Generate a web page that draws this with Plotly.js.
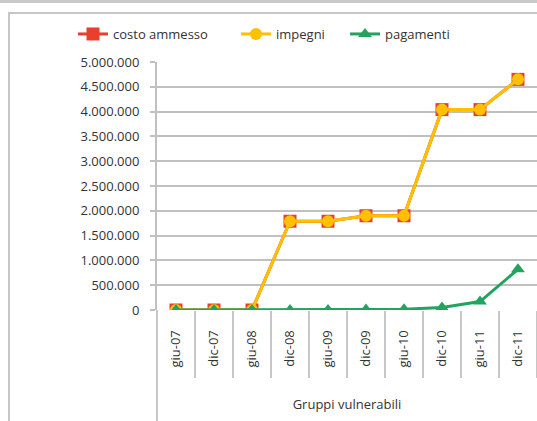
<!DOCTYPE html>
<html>
<head>
<meta charset="utf-8">
<script src="https://cdn.plot.ly/plotly-3.0.1.min.js"></script>
<style>
  html, body { margin: 0; padding: 0; background: #ffffff; overflow: hidden; }
  #topbar { position: absolute; left: 0; top: 0; width: 537px; height: 3px; background: #c9c9c9; }
  #frame { position: absolute; left: 8px; top: 12px; width: 600px; height: 500px;
           border-left: 2px solid #c6c6c6; border-top: 2px solid #c6c6c6; }
  #chart { position: absolute; left: 0; top: 0; width: 537px; height: 421px; }
</style>
</head>
<body>
<div id="topbar"></div>
<div id="frame"></div>
<div id="chart"></div>
<script>
const categories = ['giu-07','dic-07','giu-08','dic-08','giu-09','dic-09','giu-10','dic-10','giu-11','dic-11'];
const costoAmmesso = [0, 0, 0, 1790000, 1790000, 1900000, 1900000, 4040000, 4040000, 4650000];
const impegni      = [0, 0, 0, 1790000, 1790000, 1900000, 1900000, 4040000, 4040000, 4650000];
const pagamenti    = [0, 0, 0, 0, 0, 10000, 15000, 50000, 170000, 820000];
const yTickVals = [0, 500000, 1000000, 1500000, 2000000, 2500000, 3000000, 3500000, 4000000, 4500000, 5000000];
const seriesNames = ['costo ammesso', 'impegni', 'pagamenti'];
const xTitle = 'Gruppi vulnerabili';

const font = 'Open Sans, DejaVu Sans, sans-serif';
const txt = '#333333';

const traces = [
  { x: categories, y: costoAmmesso, name: seriesNames[0], type: 'scatter', mode: 'lines+markers',
    legend: 'legend',
    line: { color: '#e8402c', width: 3 },
    marker: { symbol: 'square', size: 13, color: '#e8402c' } },
  { x: categories, y: impegni, name: seriesNames[1], type: 'scatter', mode: 'lines+markers',
    legend: 'legend2',
    line: { color: '#ffc000', width: 3 },
    marker: { symbol: 'circle', size: 12, color: '#ffc000' } },
  { x: categories, y: pagamenti, name: seriesNames[2], type: 'scatter', mode: 'lines+markers',
    legend: 'legend3',
    line: { color: '#22a35e', width: 3 },
    marker: { symbol: 'triangle-up', size: 12, color: '#22a35e' } },
  // invisible carrier for the category boundary ticks axis
  { x: categories, y: pagamenti, xaxis: 'x2', type: 'scatter', mode: 'lines',
    line: { width: 0, color: 'rgba(0,0,0,0)' }, showlegend: false, hoverinfo: 'skip' }
];

function legendAt(px) {
  return {
    orientation: 'h', xref: 'container', yref: 'container',
    x: px / 537, xanchor: 'left', y: 1 - 34 / 421, yanchor: 'middle',
    font: { family: font, size: 13, color: txt },
    bgcolor: 'rgba(0,0,0,0)'
  };
}

const layout = {
  width: 537, height: 421,
  margin: { l: 157, r: 0, t: 62, b: 111 },
  paper_bgcolor: 'rgba(0,0,0,0)',
  plot_bgcolor: 'rgba(0,0,0,0)',
  separators: ',.',
  font: { family: font, size: 13, color: txt },
  showlegend: true,
  legend: legendAt(73),
  legend2: legendAt(236),
  legend3: legendAt(345),
  xaxis: {
    type: 'category', categoryorder: 'array', categoryarray: categories,
    range: [-0.5, categories.length - 0.5],
    showgrid: false, zeroline: false, showline: false,
    ticks: 'outside', ticklen: 14, tickcolor: 'rgba(0,0,0,0)',
    tickangle: -90, tickfont: { family: font, size: 13, color: txt },
    title: { text: xTitle, font: { family: font, size: 13, color: txt }, standoff: 33 },
    automargin: false
  },
  xaxis2: {
    type: 'category', categoryorder: 'array', categoryarray: categories,
    range: [-0.5, categories.length - 0.5],
    overlaying: 'x', anchor: 'y', side: 'bottom',
    showgrid: false, zeroline: false, showline: false, showticklabels: false,
    ticks: 'outside', tickson: 'boundaries', ticklen: 67, tickwidth: 2, tickcolor: '#c6c6c6'
  },
  yaxis: {
    range: [0, 5000000], tickvals: yTickVals, tickformat: ',d',
    showgrid: true, gridcolor: '#c0c0c0', gridwidth: 2,
    zeroline: false, showline: true, linecolor: '#c0c0c0', linewidth: 2,
    ticks: 'outside', ticklen: 5, tickwidth: 2, tickcolor: '#c0c0c0',
    ticklabelstandoff: 8,
    tickfont: { family: font, size: 13, color: txt },
    automargin: false
  },
  shapes: [
    { type: 'line', xref: 'paper', yref: 'paper', x0: 0, x1: 0, y0: 0, y1: -0.5,
      line: { color: '#c6c6c6', width: 2 } }
  ]
};

Plotly.newPlot('chart', traces, layout, { displayModeBar: false, staticPlot: true });
</script>
</body>
</html>
